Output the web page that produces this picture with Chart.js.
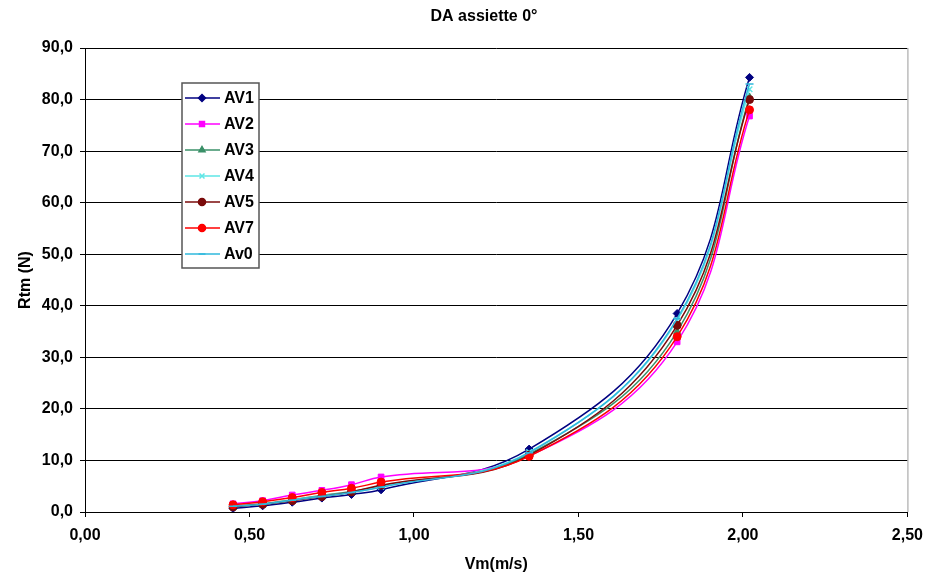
<!DOCTYPE html>
<html>
<head>
<meta charset="utf-8">
<title>DA assiette 0°</title>
<script src="https://cdn.jsdelivr.net/npm/chart.js@4.4.1/dist/chart.umd.min.js"></script>
<style>
    html, body { margin: 0; padding: 0; background: #fff; }
    #wrap { width: 932px; height: 574px; position: relative; }
</style>
</head>
<body>
<div id="wrap"><canvas id="chart" width="932" height="574"></canvas></div>
<script>
// speeds (m/s) shared by every series
var vm = [0.45, 0.54, 0.63, 0.72, 0.81, 0.90, 1.35, 1.80, 2.02];

// resistance Rtm (N) per run
var av1 = [0.7, 1.2, 1.9, 2.7, 3.4, 4.3, 12.2, 38.5, 84.3];
var av2 = [1.6, 2.2, 3.3, 4.2, 5.3, 6.8, 10.9, 33.0, 76.8];
var av3 = [1.2, 1.6, 2.4, 3.2, 4.0, 5.0, 11.2, 35.0, 80.5];
var av4 = [1.1, 1.5, 2.3, 3.1, 3.8, 4.9, 11.6, 37.2, 82.0];
var av5 = [1.0, 1.5, 2.2, 3.0, 3.9, 5.2, 11.0, 36.2, 80.0];
var av7 = [1.4, 2.0, 2.8, 3.8, 4.6, 5.8, 10.8, 34.0, 78.0];
var av0 = [1.1, 1.5, 2.3, 3.0, 3.8, 4.8, 11.5, 37.5, 83.0];

var seriesNames = ['AV1', 'AV2', 'AV3', 'AV4', 'AV5', 'AV7', 'Av0'];
var seriesValues = [av1, av2, av3, av4, av5, av7, av0];
var seriesColors = ['#000080', '#ff00ff', '#3a9068', '#5ee6e6', '#7a0a0a', '#ff0000', '#2fb8dc'];
var seriesMarkers = ['rectRot', 'rect', 'triangle', 'crossRot', 'circle', 'circle', 'line'];

var FONT = '"Liberation Sans", Arial, sans-serif';

function toPoints(values) {
    return values.map(function (v, i) { return { x: vm[i], y: v }; });
}

var datasets = seriesNames.map(function (name, i) {
    return {
        label: name,
        data: toPoints(seriesValues[i]),
        borderColor: seriesColors[i],
        backgroundColor: seriesColors[i],
        borderWidth: 1.5,
        pointStyle: seriesMarkers[i],
        pointRadius: 4,
        pointBorderWidth: seriesMarkers[i] === 'crossRot' || seriesMarkers[i] === 'line' ? 1.5 : 1,
        tension: 0.4,
        order: seriesNames.length - i
    };
});

// legend box drawn inside the plot area, plus the grey right border
var boxLegend = {
    id: 'boxLegend',
    afterDraw: function (chart) {
        var ctx = chart.ctx;
        var area = chart.chartArea;
        ctx.save();
        ctx.strokeStyle = '#9a9a9a';
        ctx.lineWidth = 1;
        ctx.beginPath();
        ctx.moveTo(area.right + 0.5, area.top);
        ctx.lineTo(area.right + 0.5, area.bottom);
        ctx.stroke();

        var bx = 182, by = 83, bw = 77, bh = 185;
        ctx.fillStyle = '#fff';
        ctx.fillRect(bx, by, bw, bh);
        ctx.strokeStyle = '#555';
        ctx.lineWidth = 1.5;
        ctx.strokeRect(bx, by, bw, bh);

        ctx.font = 'bold 16px ' + FONT;
        ctx.textBaseline = 'middle';
        chart.data.datasets.forEach(function (ds, i) {
            var y = 98 + i * 26;
            ctx.strokeStyle = ds.borderColor;
            ctx.lineWidth = 1.5;
            ctx.beginPath();
            ctx.moveTo(185, y);
            ctx.lineTo(220, y);
            ctx.stroke();
            Chart.helpers.drawPoint(ctx, {
                pointStyle: ds.pointStyle,
                radius: 3.5,
                rotation: 0,
                borderWidth: ds.pointBorderWidth
            }, 202, y);
            ctx.fillStyle = ds.borderColor;
            ctx.strokeStyle = ds.borderColor;
            ctx.fill();
            ctx.fillStyle = '#000';
            ctx.fillText(ds.label, 224, y + 1);
        });
        ctx.restore();
    }
};

// chart title drawn centred over the page
var topTitle = {
    id: 'topTitle',
    afterDraw: function (chart) {
        var ctx = chart.ctx;
        ctx.save();
        ctx.font = 'bold 16px ' + FONT;
        ctx.fillStyle = '#000';
        ctx.textAlign = 'center';
        ctx.textBaseline = 'middle';
        ctx.fillText('DA assiette 0\u00b0', 484, 17);
        ctx.restore();
    }
};

var ctx = document.getElementById('chart').getContext('2d');
var chart = new Chart(ctx, {
    type: 'line',
    data: { datasets: datasets },
    options: {
        responsive: false,
        animation: false,
        layout: { padding: { top: 48, right: 16, left: 16, bottom: 0 } },
        plugins: {
            legend: { display: false },
            tooltip: { enabled: false }
        },
        scales: {
            x: {
                type: 'linear',
                min: 0,
                max: 2.5,
                afterFit: function (scale) { scale.height = 62; },
                ticks: {
                    stepSize: 0.5,
                    color: '#000',
                    padding: 9,
                    font: { family: FONT, size: 16, weight: 'bold' },
                    callback: function (v) { return v.toFixed(2).replace('.', ','); }
                },
                grid: { drawOnChartArea: false, color: '#000', tickLength: 5 },
                border: { color: '#000', width: 1 },
                title: {
                    display: true,
                    text: 'Vm(m/s)',
                    color: '#000',
                    padding: { top: 4, bottom: 0 },
                    font: { family: FONT, size: 16, weight: 'bold' }
                }
            },
            y: {
                min: 0,
                max: 90,
                afterFit: function (scale) { scale.width = 69; },
                ticks: {
                    stepSize: 10,
                    color: '#000',
                    padding: 7,
                    font: { family: FONT, size: 16, weight: 'bold' },
                    callback: function (v) { return v.toFixed(1).replace('.', ','); }
                },
                grid: { color: '#000', tickLength: 5, lineWidth: 1 },
                border: { color: '#000', width: 1 },
                title: {
                    display: true,
                    text: 'Rtm (N)',
                    color: '#000',
                    padding: { top: 0, bottom: 4 },
                    font: { family: FONT, size: 16, weight: 'bold' }
                }
            }
        }
    },
    plugins: [boxLegend, topTitle]
});
</script>
</body>
</html>
